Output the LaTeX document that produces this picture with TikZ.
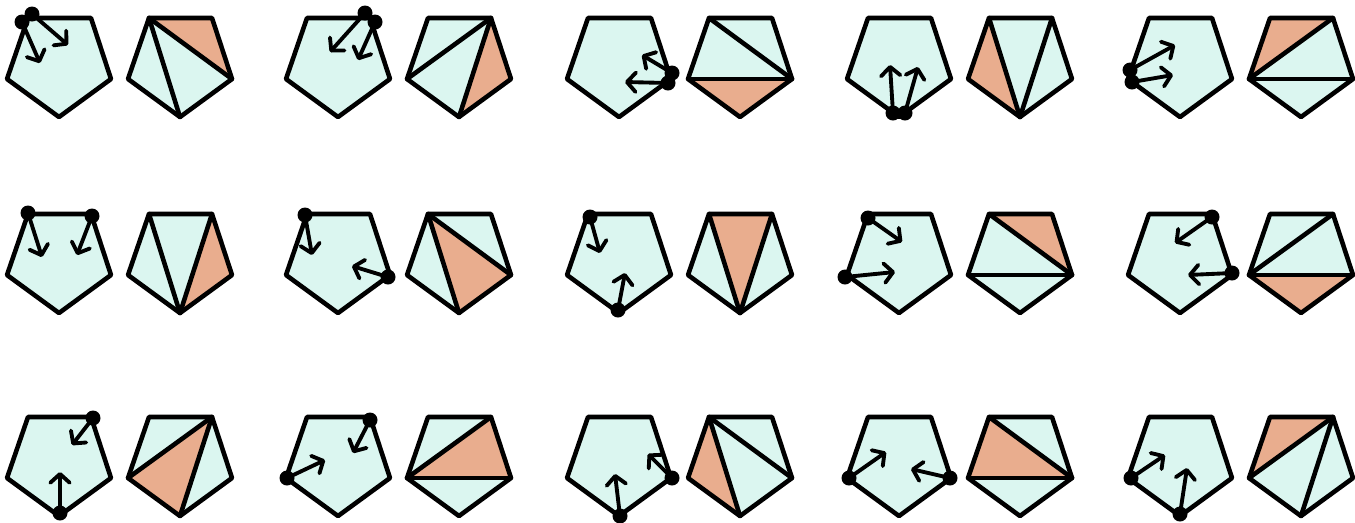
\documentclass[tikz,border=0pt]{standalone}
\usetikzlibrary{arrows.meta}

\definecolor{pentcyan}{HTML}{DBF6F0}
\definecolor{pentsalmon}{HTML}{E9AD8E}

% corners of one pentagon: a top left, b top right, c right, d bottom, e left
\newcommand{\pentagon}[2]{%
  \path (#2+21,0) coordinate (#1a) (#2+84,0) coordinate (#1b)
        (#2+104,61) coordinate (#1c) (#2+52,99) coordinate (#1d)
        (#2,61) coordinate (#1e);
  \fill[pentcyan] (#1a) -- (#1b) -- (#1c) -- (#1d) -- (#1e) -- cycle;}

% one pair: x, y, shaded triangle (3 corners), diagonals, dots with arrows
\newcommand{\pentpair}[7]{%
  \begin{scope}[shift={(#1,#2)}]
    \pentagon{l}{0}
    \pentagon{r}{121}
    \fill[pentsalmon] (r#3) -- (r#4) -- (r#5) -- cycle;
    \foreach \p/\q in {#6} \draw[edge] (r\p) -- (r\q);
    \draw[edge] (la) -- (lb) -- (lc) -- (ld) -- (le) -- cycle;
    \draw[edge] (ra) -- (rb) -- (rc) -- (rd) -- (re) -- cycle;
    \foreach \v/\dx/\dy/\ex/\ey in {#7} {
      \fill (l\v) ++(\dx,\dy) circle[radius=7.5];
      \draw[arrow] (l\v) ++(\dx,\dy) -- ++(\ex,\ey);
    }
  \end{scope}}

\begin{document}
\begin{tikzpicture}[
    x=0.02cm, y=-0.02cm,
    edge/.style={line width=2.6pt, line join=round, line cap=round},
    arrow/.style={line width=2.2pt, line cap=round,
      -{Straight Barb[length=5pt, width=11pt, line cap=round, line join=round]}}
]
\useasboundingbox (0,0) rectangle (1355,522);

% first row: both dots on one corner
\pentpair{7}{18}{a}{b}{c}{a/d,a/c}{a/-6/4/18/41, a/4/-4/36/31}
\pentpair{286}{18}{b}{c}{d}{b/e,b/d}{b/-5/-5/-35/39, b/5/4/-17/38}
\pentpair{567}{18}{c}{d}{e}{c/a,c/e}{c/1/-6/-30/-18, c/-3/4/-43/-1}
\pentpair{847}{18}{a}{d}{e}{d/a,d/b}{d/-6/-4/-3/-48, d/6/-4/13/-46}
\pentpair{1128}{18}{e}{a}{b}{e/b,e/c}{e/2/-9/45/-25, e/4/3/41/-7}

% second row
\pentpair{7}{214}{b}{c}{d}{a/d,b/d}{a/0/-1/14/44, b/1/2/-15/39}
\pentpair{286}{214}{a}{c}{d}{a/d,a/c}{a/-2/1/7/40, c/-2/2/-36/-11}
\pentpair{567}{214}{a}{b}{d}{a/d,b/d}{a/2/3/10/36, d/-1/-3/7/-37}
\pentpair{847}{214}{a}{b}{c}{a/c,e/c}{a/0/4/34/24, e/-2/2/50/-5}
\pentpair{1128}{214}{e}{c}{d}{b/e,e/c}{b/0/3/-37/26, c/0/-2/-44/2}

% third row
\pentpair{7}{417}{b}{d}{e}{b/e,b/d}{b/2/1/-21/27, d/1/-3/0/-41}
\pentpair{286}{417}{e}{b}{c}{e/b,e/c}{b/0/3/-17/33, e/1/0/38/-18}
\pentpair{567}{417}{a}{d}{e}{a/d,a/c}{c/1/0/-24/-24, d/1/0/-5/-42}
\pentpair{847}{417}{a}{c}{e}{a/c,e/c}{e/2/0/37/-26, c/-1/0/-39/-9}
\pentpair{1128}{417}{e}{a}{b}{e/b,b/d}{e/3/0/34/-23, d/0/-2/7/-46}

\end{tikzpicture}
\end{document}
